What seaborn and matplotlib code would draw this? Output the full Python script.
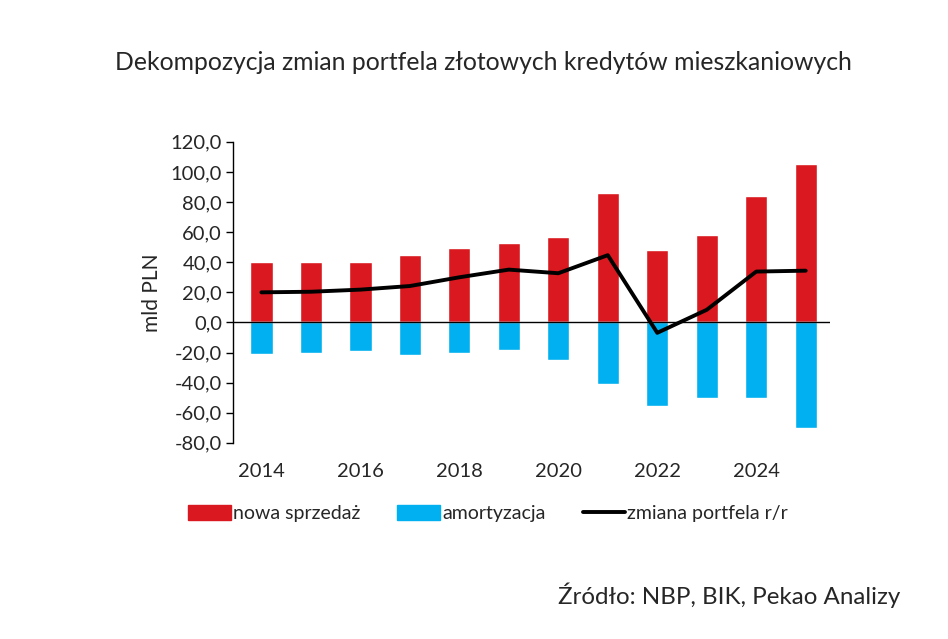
import matplotlib
matplotlib.use('Agg')
import matplotlib.pyplot as plt
import seaborn as sns
import pandas as pd
from matplotlib.patches import Patch
from matplotlib.lines import Line2D
from matplotlib.ticker import FuncFormatter

years = list(range(2014, 2026))
nowa_sprzedaz = [40.0, 40.4, 40.4, 45.1, 49.6, 52.9, 57.1, 85.8, 48.4, 58.0, 83.8, 105.1]
amortyzacja = [-20.7, -20.2, -19.1, -21.6, -20.2, -18.4, -24.9, -40.9, -55.8, -50.0, -50.4, -70.4]
zmiana_portfela = [20.0, 20.4, 21.8, 24.2, 30.0, 35.1, 32.7, 44.7, -6.9, 8.4, 33.8, 34.4]

red = '#D9181F'
blue = '#00B0F0'

df = pd.DataFrame({'rok': years, 'nowa': nowa_sprzedaz, 'amort': amortyzacja,
                   'zmiana': zmiana_portfela})

sns.set_style('white')
plt.rcParams['font.family'] = ['Lato', 'DejaVu Sans']

fig = plt.figure(figsize=(9.48, 6.39), dpi=100)
ax = fig.add_axes([0.246, 0.307, 0.63, 0.471])

sns.barplot(data=df, x='rok', y='nowa', color=red, native_scale=True,
            width=0.45, saturation=1, ax=ax)
sns.barplot(data=df, x='rok', y='amort', color=blue, native_scale=True,
            width=0.45, saturation=1, ax=ax)
sns.lineplot(data=df, x='rok', y='zmiana', color='black', linewidth=2.8, ax=ax)

ax.axhline(0, color='black', linewidth=1.0, zorder=1)
ax.set_ylim(-80, 120)
ax.set_xlim(2013.43, 2025.5)
ax.set_yticks(range(-80, 121, 20))
ax.yaxis.set_major_formatter(FuncFormatter(lambda v, p: f'{v:.1f}'.replace('.', ',')))
ax.set_xticks(list(range(2014, 2025, 2)))

for s in ['top', 'right', 'bottom']:
    ax.spines[s].set_visible(False)
ax.spines['left'].set_color('black')
ax.spines['left'].set_linewidth(1.0)
ax.tick_params(axis='y', which='major', left=True, length=5, width=1, color='black',
               labelsize=14.5, pad=3)
ax.tick_params(axis='x', bottom=False, labelsize=14.5, pad=11)
ax.set_xlabel('')
ax.set_ylabel('mld PLN', fontsize=15, labelpad=6)

fig.text(0.51, 0.902, 'Dekompozycja zmian portfela złotowych kredytów mieszkaniowych',
         ha='center', va='center', fontsize=17.8)

handles = [Patch(color=red, label='nowa sprzedaż'),
           Patch(color=blue, label='amortyzacja'),
           Line2D([0], [0], color='black', linewidth=2.8, label='zmiana portfela r/r')]
fig.legend(handles=handles, loc='center', bbox_to_anchor=(0.515, 0.196), ncol=3,
           frameon=False, fontsize=14, handlelength=2.2, handleheight=0.8,
           handletextpad=0.1, columnspacing=1.9)

fig.text(0.95, 0.068, 'Źródło: NBP, BIK, Pekao Analizy', ha='right', va='center',
         fontsize=17.4)

plt.savefig('out.png', dpi=100)
